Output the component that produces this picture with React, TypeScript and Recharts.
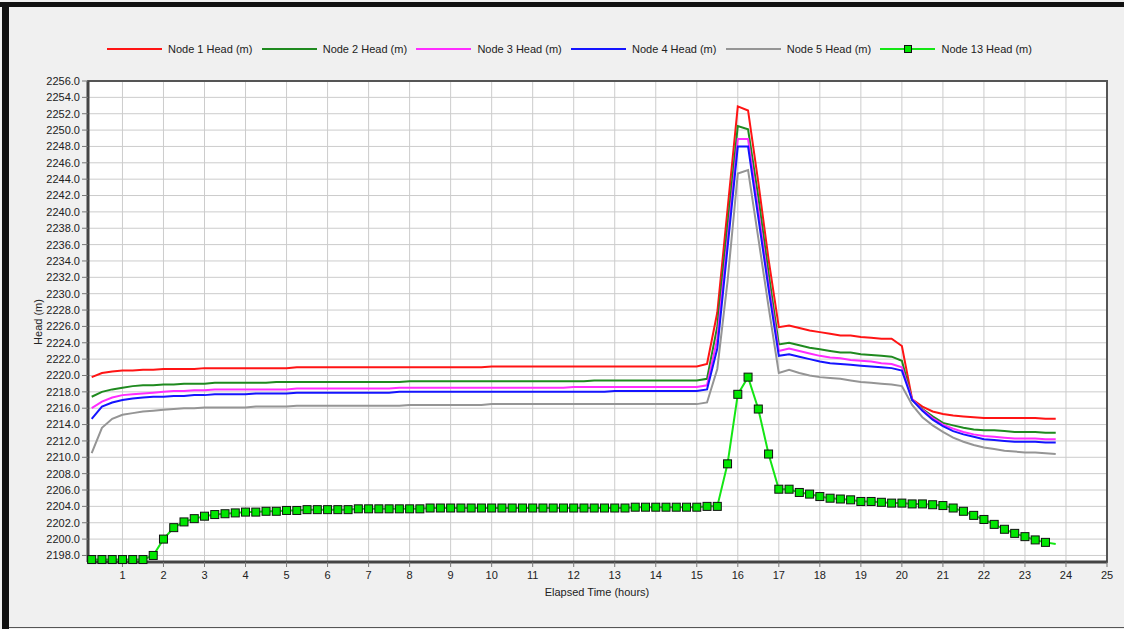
import { LineChart, Line, XAxis, YAxis, CartesianGrid, ReferenceArea } from "recharts";

const times = [
  0.25, 0.5, 0.75, 1, 1.25, 1.5, 1.75, 2, 2.25, 2.5, 2.75, 3,
  3.25, 3.5, 3.75, 4, 4.25, 4.5, 4.75, 5, 5.25, 5.5, 5.75, 6,
  6.25, 6.5, 6.75, 7, 7.25, 7.5, 7.75, 8, 8.25, 8.5, 8.75, 9,
  9.25, 9.5, 9.75, 10, 10.25, 10.5, 10.75, 11, 11.25, 11.5, 11.75, 12,
  12.25, 12.5, 12.75, 13, 13.25, 13.5, 13.75, 14, 14.25, 14.5, 14.75, 15,
  15.25, 15.5, 15.75, 16, 16.25, 16.5, 16.75, 17, 17.25, 17.5, 17.75, 18,
  18.25, 18.5, 18.75, 19, 19.25, 19.5, 19.75, 20, 20.25, 20.5, 20.75, 21,
  21.25, 21.5, 21.75, 22, 22.25, 22.5, 22.75, 23, 23.25, 23.5, 23.75,
];

const node1 = [
  2219.8, 2220.3, 2220.5, 2220.6, 2220.6, 2220.7, 2220.7, 2220.8, 2220.8, 2220.8, 2220.8, 2220.9,
  2220.9, 2220.9, 2220.9, 2220.9, 2220.9, 2220.9, 2220.9, 2220.9, 2221.0, 2221.0, 2221.0, 2221.0,
  2221.0, 2221.0, 2221.0, 2221.0, 2221.0, 2221.0, 2221.0, 2221.0, 2221.0, 2221.0, 2221.0, 2221.0,
  2221.0, 2221.0, 2221.0, 2221.1, 2221.1, 2221.1, 2221.1, 2221.1, 2221.1, 2221.1, 2221.1, 2221.1,
  2221.1, 2221.1, 2221.1, 2221.1, 2221.1, 2221.1, 2221.1, 2221.1, 2221.1, 2221.1, 2221.1, 2221.1,
  2221.4, 2227.7, 2240.3, 2252.9, 2252.4, 2243.6, 2234.2, 2225.9, 2226.1, 2225.8, 2225.5, 2225.3,
  2225.1, 2224.9, 2224.9, 2224.7, 2224.6, 2224.5, 2224.5, 2223.6, 2217.1, 2216.2, 2215.6, 2215.3,
  2215.1, 2215.0, 2214.9, 2214.8, 2214.8, 2214.8, 2214.8, 2214.8, 2214.8, 2214.7, 2214.7,
];

const node2 = [
  2217.4, 2218.0, 2218.3, 2218.5, 2218.7, 2218.8, 2218.8, 2218.9, 2218.9, 2219.0, 2219.0, 2219.0,
  2219.1, 2219.1, 2219.1, 2219.1, 2219.1, 2219.1, 2219.2, 2219.2, 2219.2, 2219.2, 2219.2, 2219.2,
  2219.2, 2219.2, 2219.2, 2219.2, 2219.2, 2219.2, 2219.2, 2219.3, 2219.3, 2219.3, 2219.3, 2219.3,
  2219.3, 2219.3, 2219.3, 2219.3, 2219.3, 2219.3, 2219.3, 2219.3, 2219.3, 2219.3, 2219.3, 2219.3,
  2219.3, 2219.4, 2219.4, 2219.4, 2219.4, 2219.4, 2219.4, 2219.4, 2219.4, 2219.4, 2219.4, 2219.4,
  2219.6, 2226.0, 2238.3, 2250.5, 2250.1, 2241.8, 2232.5, 2223.8, 2224.0, 2223.7, 2223.4, 2223.2,
  2223.0, 2222.8, 2222.8, 2222.6, 2222.5, 2222.4, 2222.3, 2221.8, 2217.0, 2215.9, 2215.0, 2214.2,
  2213.9, 2213.6, 2213.4, 2213.3, 2213.3, 2213.2, 2213.1, 2213.1, 2213.1, 2213.0, 2213.0,
];

const node3 = [
  2216.0, 2216.8, 2217.3, 2217.6, 2217.7, 2217.8, 2217.9, 2218.0, 2218.1, 2218.1, 2218.2, 2218.2,
  2218.3, 2218.3, 2218.3, 2218.3, 2218.3, 2218.3, 2218.3, 2218.3, 2218.4, 2218.4, 2218.4, 2218.4,
  2218.4, 2218.4, 2218.4, 2218.4, 2218.4, 2218.4, 2218.5, 2218.5, 2218.5, 2218.5, 2218.5, 2218.5,
  2218.5, 2218.5, 2218.5, 2218.5, 2218.5, 2218.5, 2218.5, 2218.5, 2218.5, 2218.5, 2218.5, 2218.6,
  2218.6, 2218.6, 2218.6, 2218.6, 2218.6, 2218.6, 2218.6, 2218.6, 2218.6, 2218.6, 2218.6, 2218.6,
  2218.8, 2224.5, 2236.5, 2248.9, 2248.9, 2240.2, 2231.2, 2223.0, 2223.3, 2223.0, 2222.7, 2222.4,
  2222.2, 2222.1, 2221.9, 2221.8, 2221.7, 2221.5, 2221.4, 2221.0, 2217.1, 2215.8, 2214.8, 2214.0,
  2213.5, 2213.1, 2212.8, 2212.6, 2212.5, 2212.4, 2212.3, 2212.3, 2212.3, 2212.2, 2212.2,
];

const node4 = [
  2214.7, 2216.2, 2216.7, 2217.0, 2217.2, 2217.3, 2217.4, 2217.4, 2217.5, 2217.5, 2217.6, 2217.6,
  2217.7, 2217.7, 2217.7, 2217.7, 2217.8, 2217.8, 2217.8, 2217.8, 2217.9, 2217.9, 2217.9, 2217.9,
  2217.9, 2217.9, 2217.9, 2217.9, 2217.9, 2217.9, 2218.0, 2218.0, 2218.0, 2218.0, 2218.0, 2218.0,
  2218.0, 2218.0, 2218.0, 2218.0, 2218.0, 2218.0, 2218.0, 2218.0, 2218.0, 2218.0, 2218.0, 2218.0,
  2218.0, 2218.0, 2218.0, 2218.1, 2218.1, 2218.1, 2218.1, 2218.1, 2218.1, 2218.1, 2218.1, 2218.1,
  2218.3, 2223.3, 2235.6, 2248.0, 2248.0, 2239.3, 2230.6, 2222.4, 2222.6, 2222.3, 2222.0, 2221.7,
  2221.5, 2221.4, 2221.3, 2221.2, 2221.1, 2221.0, 2220.9, 2220.6, 2217.0, 2215.7, 2214.6, 2213.8,
  2213.2, 2212.8, 2212.5, 2212.2, 2212.1, 2212.0, 2211.9, 2211.9, 2211.9, 2211.8, 2211.8,
];

const node5 = [
  2210.5, 2213.6, 2214.7, 2215.2, 2215.4, 2215.6, 2215.7, 2215.8, 2215.9, 2216.0, 2216.0, 2216.1,
  2216.1, 2216.1, 2216.1, 2216.1, 2216.2, 2216.2, 2216.2, 2216.2, 2216.3, 2216.3, 2216.3, 2216.3,
  2216.3, 2216.3, 2216.3, 2216.3, 2216.3, 2216.3, 2216.3, 2216.4, 2216.4, 2216.4, 2216.4, 2216.4,
  2216.4, 2216.4, 2216.4, 2216.5, 2216.5, 2216.5, 2216.5, 2216.5, 2216.5, 2216.5, 2216.5, 2216.5,
  2216.5, 2216.5, 2216.5, 2216.5, 2216.5, 2216.5, 2216.5, 2216.5, 2216.5, 2216.5, 2216.5, 2216.5,
  2216.7, 2220.8, 2231.5, 2244.7, 2245.1, 2236.8, 2228.4, 2220.3, 2220.7, 2220.3, 2220.0, 2219.8,
  2219.7, 2219.6, 2219.4, 2219.2, 2219.1, 2219.0, 2218.9, 2218.7, 2216.4, 2214.9, 2213.9, 2213.1,
  2212.4, 2211.9, 2211.5, 2211.2, 2211.0, 2210.8, 2210.7, 2210.6, 2210.6, 2210.5, 2210.4,
];

const node13 = [
  2197.5, 2197.5, 2197.5, 2197.5, 2197.5, 2197.5, 2198.0, 2200.0, 2201.4, 2202.1, 2202.5, 2202.8,
  2203.0, 2203.1, 2203.2, 2203.3, 2203.3, 2203.4, 2203.4, 2203.5, 2203.5, 2203.6, 2203.6, 2203.6,
  2203.6, 2203.6, 2203.7, 2203.7, 2203.7, 2203.7, 2203.7, 2203.7, 2203.7, 2203.8, 2203.8, 2203.8,
  2203.8, 2203.8, 2203.8, 2203.8, 2203.8, 2203.8, 2203.8, 2203.8, 2203.8, 2203.8, 2203.8, 2203.8,
  2203.8, 2203.8, 2203.8, 2203.8, 2203.8, 2203.9, 2203.9, 2203.9, 2203.9, 2203.9, 2203.9, 2203.9,
  2204.0, 2204.0, 2209.2, 2217.7, 2219.8, 2215.9, 2210.4, 2206.1, 2206.1, 2205.7, 2205.5, 2205.2,
  2205.0, 2204.9, 2204.8, 2204.6, 2204.6, 2204.5, 2204.4, 2204.4, 2204.3, 2204.3, 2204.2, 2204.1,
  2203.8, 2203.4, 2202.9, 2202.4, 2201.8, 2201.2, 2200.7, 2200.3, 2199.9, 2199.6, 2199.4,
];

const xTicks = [1, 2, 3, 4, 5, 6, 7, 8, 9, 10, 11, 12, 13, 14, 15, 16, 17, 18, 19, 20, 21, 22, 23, 24, 25];
const yTicks = [
  2198, 2200, 2202, 2204, 2206, 2208, 2210, 2212, 2214, 2216, 2218, 2220, 2222, 2224, 2226,
  2228, 2230, 2232, 2234, 2236, 2238, 2240, 2242, 2244, 2246, 2248, 2250, 2252, 2254, 2256,
];

const seriesKeys = ["n1", "n2", "n3", "n4", "n5", "n13"];
const seriesNames = [
  "Node 1 Head (m)",
  "Node 2 Head (m)",
  "Node 3 Head (m)",
  "Node 4 Head (m)",
  "Node 5 Head (m)",
  "Node 13 Head (m)",
];
const seriesColors = ["#ff1414", "#1f8a1f", "#ff2cff", "#1414ff", "#959595", "#14e614"];

const X_MIN = 0.16;
const X_MAX = 25;
const Y_MIN = 2197.2;
const Y_MAX = 2256;

const data = times.map((t, i) => ({
  t,
  n1: node1[i],
  n2: node2[i],
  n3: node3[i],
  n4: node4[i],
  n5: node5[i],
  n13: node13[i],
}));

const FONT = "'Liberation Sans', Arial, sans-serif";

// square markers on node 13, the last sample has none in the original
function SquareDot(props: any) {
  const { cx, cy, index } = props;
  if (cx == null || cy == null || index === times.length - 1) return <g key={`sq-${index}`} />;
  return (
    <rect
      key={`sq-${index}`}
      x={cx - 4}
      y={cy - 4}
      width={8}
      height={8}
      fill="#00e600"
      stroke="#111"
      strokeWidth={1}
    />
  );
}

function LegendRow() {
  return (
    <div
      style={{
        position: "absolute",
        left: 107,
        top: 41,
        display: "flex",
        alignItems: "center",
        height: 16,
        fontFamily: FONT,
        fontSize: 11,
        color: "#222",
      }}
    >
      {seriesNames.map((name, i) => (
        <div key={name} style={{ display: "flex", alignItems: "center", width: 154.7, flex: "none" }}>
          <div style={{ position: "relative", width: 55, height: 2, background: seriesColors[i] }}>
            {i === 5 && (
              <div
                style={{
                  position: "absolute",
                  left: 24,
                  top: -3,
                  width: 6,
                  height: 6,
                  background: "#00e600",
                  border: "1px solid #111",
                }}
              />
            )}
          </div>
          <span style={{ marginLeft: 6, whiteSpace: "nowrap" }}>{name}</span>
        </div>
      ))}
    </div>
  );
}

export default function App() {
  return (
    <div
      style={{
        position: "absolute",
        left: 0,
        top: 0,
        width: 1124,
        height: 629,
        background: "#f0f0f0",
        overflow: "hidden",
      }}
    >
      {/* window frame */}
      <div style={{ position: "absolute", left: 0, top: 2, width: 1124, height: 5, background: "#111" }} />
      <div style={{ position: "absolute", left: 2, top: 2, width: 7, height: 627, background: "#111" }} />
      <div style={{ position: "absolute", left: 9, top: 627, width: 1115, height: 1, background: "#555" }} />

      <LegendRow />

      <div style={{ position: "absolute", left: 0, top: 0 }}>
        <LineChart
          width={1124}
          height={629}
          data={data}
          margin={{ top: 81, right: 17, bottom: 27, left: 0 }}
          style={{ fontFamily: FONT }}
        >
          <CartesianGrid stroke="#cccccc" strokeWidth={1} fill="#ffffff" />
          <XAxis
            dataKey="t"
            type="number"
            domain={[X_MIN, X_MAX]}
            ticks={xTicks}
            interval={0}
            height={40}
            tickSize={5}
            tickMargin={4}
            tick={{ fontSize: 11, fill: "#222" }}
            tickLine={{ stroke: "#777" }}
            axisLine={{ stroke: "#444", strokeWidth: 3 }}
            label={{
              content: () => (
                <text x={597} y={596} textAnchor="middle" fontSize={11} fill="#222" fontFamily={FONT}>
                  Elapsed Time (hours)
                </text>
              ),
            }}
          />
          <YAxis
            type="number"
            domain={[Y_MIN, Y_MAX]}
            ticks={yTicks}
            interval={0}
            width={88}
            tickSize={6}
            tickMargin={2}
            tickFormatter={(v: number) => v.toFixed(1)}
            tick={{ fontSize: 11, fill: "#222" }}
            tickLine={{ stroke: "#777" }}
            axisLine={{ stroke: "#444", strokeWidth: 3 }}
            label={{
              content: () => (
                <text
                  x={42}
                  y={322}
                  textAnchor="middle"
                  fontSize={11}
                  fill="#222"
                  fontFamily={FONT}
                  transform="rotate(-90 42 322)"
                >
                  Head (m)
                </text>
              ),
            }}
          />
          <ReferenceArea
            x1={X_MIN}
            x2={X_MAX}
            y1={Y_MIN}
            y2={Y_MAX}
            fill="none"
            stroke="#555"
            strokeWidth={2}
            ifOverflow="visible"
          />
          {seriesKeys.map((key, i) => (
            <Line
              key={key}
              dataKey={key}
              name={seriesNames[i]}
              type="linear"
              stroke={seriesColors[i]}
              strokeWidth={2}
              dot={key === "n13" ? SquareDot : false}
              activeDot={false}
              isAnimationActive={false}
            />
          ))}
        </LineChart>
      </div>
    </div>
  );
}
